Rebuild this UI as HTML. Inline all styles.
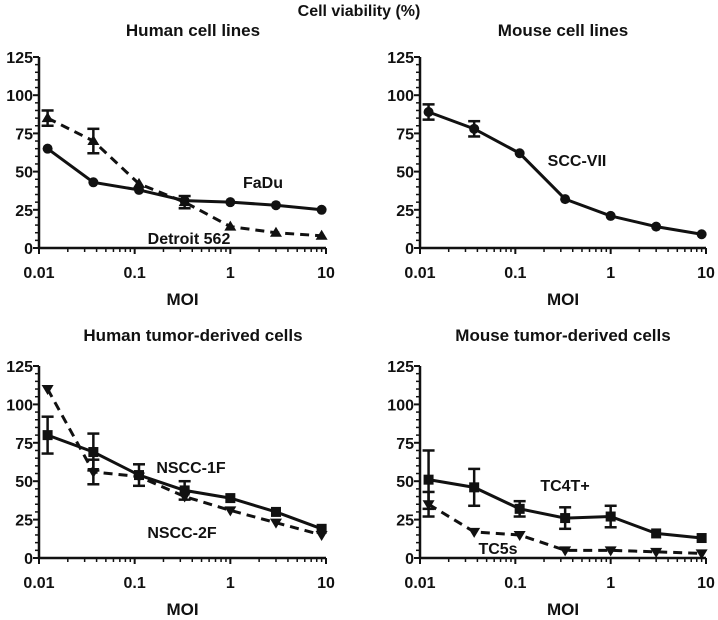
<!DOCTYPE html>
<html><head><meta charset="utf-8"><style>
body{margin:0;background:#fff}
svg text{font-family:"Liberation Sans",sans-serif;font-weight:bold;fill:#111}
</style></head><body>
<svg id="c" width="718" height="615"></svg>
<script>
const moi=[0.0123,0.037,0.111,0.333,1,3,9];
const yTicks=[0,25,50,75,100,125];
const xTickLabels=["0.01","0.1","1","10"];
const fadu=[65,43,38,31,30,28,25];
const detroit=[85,70,42,30,14,10,8];
const detroitErr=[5,8,0,4,0,0,0];
const scc=[89,78,62,32,21,14,9];
const sccErr=[5,5,0,0,0,0,0];
const nscc1=[80,69,54,44,39,30,19];
const nscc1Err=[12,12,7,6,0,0,0];
const nscc2=[110,56,53,40,31,23,15];
const nscc2Err=[0,8,0,0,0,0,0];
const tc4=[51,46,32,26,27,16,13];
const tc4Err=[19,12,5,7,7,0,0];
const tc5=[35,17,15,5,5,4,3];
const tc5Err=[8,0,0,0,0,0,0];

const svg=document.getElementById('c');
const NS='http://www.w3.org/2000/svg';
function mk(tag,attrs,parent){const e=document.createElementNS(NS,tag);for(const k in attrs)e.setAttribute(k,attrs[k]);(parent||svg).appendChild(e);return e;}
function txt(x,y,s,size,anchor,name){const t=mk('text',{x:x,y:y,'font-size':size,'text-anchor':anchor||'middle'});t.textContent=s;


return t;}

txt(359,16,"Cell viability (%)",16,'middle','figure-title');

const panels=[
 {title:"Human cell lines",x0:39,x1:326,y0:248,y1:57,tx:193,ty:36,series:[
  {v:fadu,e:null,m:'circle',dash:false,label:"FaDu",lx:263,ly:188},
  {v:detroit,e:detroitErr,m:'tri',dash:true,label:"Detroit 562",lx:189,ly:244}]},
 {title:"Mouse cell lines",x0:420,x1:706,y0:248,y1:57,tx:563,ty:36,series:[
  {v:scc,e:sccErr,m:'circle',dash:false,label:"SCC-VII",lx:577,ly:166}]},
 {title:"Human tumor-derived cells",x0:39,x1:326,y0:558,y1:366,tx:193,ty:341,series:[
  {v:nscc1,e:nscc1Err,m:'square',dash:false,label:"NSCC-1F",lx:191,ly:473},
  {v:nscc2,e:nscc2Err,m:'itri',dash:true,label:"NSCC-2F",lx:182,ly:538}]},
 {title:"Mouse tumor-derived cells",x0:420,x1:706,y0:558,y1:366,tx:563,ty:341,series:[
  {v:tc4,e:tc4Err,m:'square',dash:false,label:"TC4T+",lx:565,ly:491},
  {v:tc5,e:tc5Err,m:'itri',dash:true,label:"TC5s",lx:498,ly:554}]}
];

panels.forEach((p,pi)=>{
 const g=mk('g',{});
 
 
 const X=v=>p.x0+(Math.log10(v)+2)/3*(p.x1-p.x0);
 const Y=v=>p.y0+v/125*(p.y1-p.y0);
 const t=txt(p.tx,p.ty,p.title,17,'middle','panel-title');g.appendChild(t);
 mk('line',{x1:p.x0,y1:p.y0+1,x2:p.x0,y2:p.y1,stroke:'#111','stroke-width':2.5},g);
 mk('line',{x1:p.x0-1,y1:p.y0,x2:p.x1,y2:p.y0,stroke:'#111','stroke-width':2.5},g);
 for(let v=0;v<=125;v+=5){const major=v%25===0;mk('line',{x1:p.x0-(major?6:4),y1:Y(v),x2:p.x0,y2:Y(v),stroke:'#111','stroke-width':major?2:1.5},g);}
 yTicks.forEach(v=>{const l=txt(p.x0-6,Y(v)+6,String(v),16,'end','y-tick-label');g.appendChild(l);});
 for(let d=-2;d<=1;d++){for(let k=1;k<=9;k++){if(d===1&&k>1)break;const v=k*Math.pow(10,d);const major=k===1;
  mk('line',{x1:X(v),y1:p.y0,x2:X(v),y2:p.y0+(major?6:4),stroke:'#111','stroke-width':major?2:1.5},g);}}
 xTickLabels.forEach(s=>{const l=txt(X(parseFloat(s)),p.y0+30,s,16,'middle','x-tick-label');g.appendChild(l);});
 const xl=txt((p.x0+p.x1)/2,p.y0+57,"MOI",17,'middle','x-axis-title');g.appendChild(xl);
 p.series.forEach((s,si)=>{
  const sg=mk('g',{},g);
  
  
  const pts=s.v.map((v,i)=>X(moi[i])+','+Y(v)).join(' ');
  mk('polyline',{points:pts,fill:'none',stroke:'#111','stroke-width':3,'stroke-dasharray':s.dash?'9,6':'none'},sg);
  s.v.forEach((v,i)=>{const x=X(moi[i]),y=Y(v);
   if(s.e&&s.e[i]){const e=s.e[i];
    mk('line',{x1:x,y1:Y(v-e),x2:x,y2:Y(v+e),stroke:'#111','stroke-width':2.5},sg);
    [v-e,v+e].forEach(w=>mk('line',{x1:x-6,y1:Y(w),x2:x+6,y2:Y(w),stroke:'#111','stroke-width':2.5},sg));}
   let m;
   if(s.m==='circle')m=mk('circle',{cx:x,cy:y,r:5,fill:'#111'},sg);
   else if(s.m==='square')m=mk('rect',{x:x-5,y:y-5,width:10,height:10,fill:'#111'},sg);
   else if(s.m==='tri')m=mk('polygon',{points:`${x},${y-6} ${x-6},${y+4} ${x+6},${y+4}`,fill:'#111'},sg);
   else m=mk('polygon',{points:`${x},${y+6} ${x-6},${y-4} ${x+6},${y-4}`,fill:'#111'},sg);
   
   
  });
  const l=txt(s.lx,s.ly,s.label,16,'middle','series-label');g.appendChild(l);
 });
});
</script>
</body></html>
